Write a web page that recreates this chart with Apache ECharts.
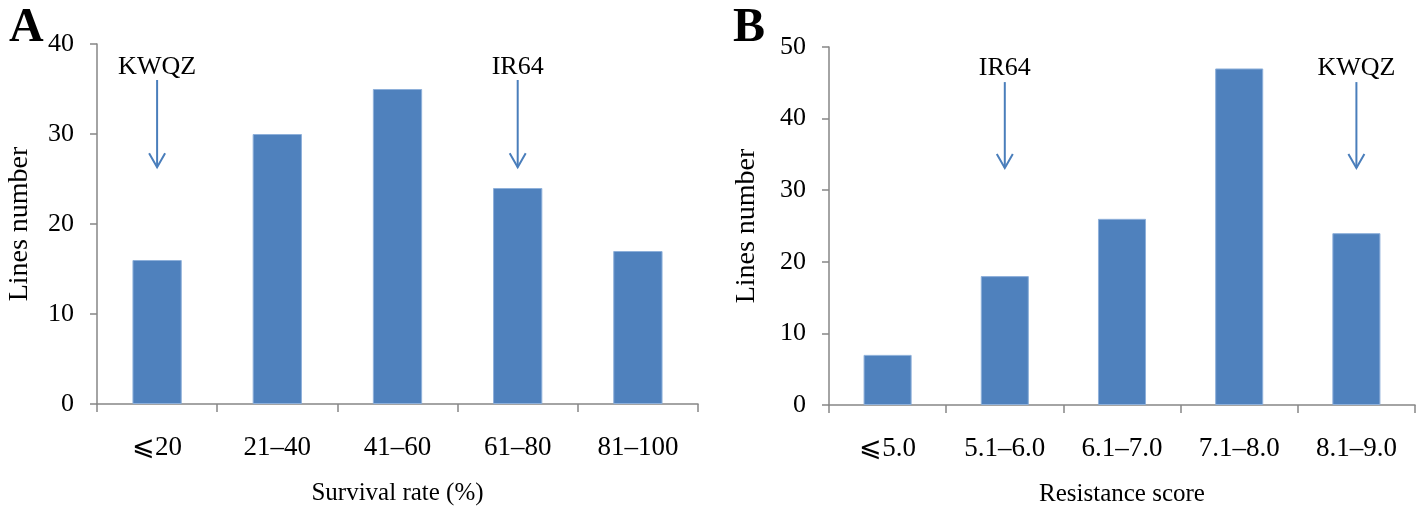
<!DOCTYPE html>
<html>
<head>
<meta charset="utf-8">
<script src="https://cdn.jsdelivr.net/npm/echarts@6/dist/echarts.min.js"></script>
<style>
html,body{margin:0;padding:0;background:#fff;}
#chart{width:1418px;height:507px;}
</style>
</head>
<body>
<div id="chart"></div>
<script>
// ---- data ----
const catsA = ['\u2A7D20', '21\u201340', '41\u201360', '61\u201380', '81\u2013100'];
const valsA = [16, 30, 35, 24, 17];
const catsB = ['\u2A7D5.0', '5.1\u20136.0', '6.1\u20137.0', '7.1\u20138.0', '8.1\u20139.0'];
const valsB = [7, 18, 26, 47, 24];
// arrows: [category index, arrow top value, arrow tip value, label value]
const arrowsA = [[0, 36, 26.3, 37.4], [3, 36, 26.3, 37.4]];
const arrowLabelsA = ['KWQZ', 'IR64'];
const arrowsB = [[1, 45.1, 33.1, 47.1], [4, 45.1, 33.1, 47.1]];
const arrowLabelsB = ['IR64', 'KWQZ'];

const FONT = '"Liberation Serif", "Times New Roman", serif';
const AXIS = '#868686';
const BLUE = '#4F81BD';
const ARROW = '#4A7EBB';

function arrowRenderer(labels) {
  return function (params, api) {
    const x = api.value(0);
    const p1 = api.coord([x, api.value(1)]);
    const p2 = api.coord([x, api.value(2)]);
    const pt = api.coord([x, api.value(3)]);
    return {
      type: 'group',
      children: [
        { type: 'line', shape: { x1: p1[0], y1: p1[1], x2: p2[0], y2: p2[1] },
          style: { stroke: ARROW, lineWidth: 2 } },
        { type: 'polyline', shape: { points: [[p2[0] - 8, p2[1] - 14], [p2[0], p2[1]], [p2[0] + 8, p2[1] - 14]] },
          style: { stroke: ARROW, lineWidth: 2, fill: null } },
        { type: 'text', style: { text: labels[params.dataIndex], x: pt[0], y: pt[1],
          align: 'center', verticalAlign: 'middle', fontFamily: FONT, fontSize: 26, fill: '#000' } }
      ]
    };
  };
}

function xAxis(idx, cats, name) {
  return {
    type: 'category', gridIndex: idx, data: cats,
    name: name, nameLocation: 'middle', nameGap: 77,
    nameTextStyle: { fontFamily: FONT, fontSize: 25, color: '#000' },
    axisLine: { lineStyle: { color: AXIS, width: 1.5 } },
    axisTick: { show: true, length: 8, lineStyle: { color: AXIS, width: 1.5 } },
    axisLabel: { fontFamily: FONT, fontSize: 27, color: '#000', margin: 30 },
    splitLine: { show: false }
  };
}
function yAxis(idx, max, gap) {
  return {
    type: 'value', gridIndex: idx, min: 0, max: max, interval: 10,
    name: 'Lines number', nameLocation: 'middle', nameGap: gap, nameRotate: 90,
    nameTextStyle: { fontFamily: FONT, fontSize: 28, color: '#000' },
    axisLine: { show: true, lineStyle: { color: AXIS, width: 1.5 } },
    axisTick: { show: true, length: 7, lineStyle: { color: AXIS, width: 1.5 } },
    axisLabel: { fontFamily: FONT, fontSize: 26, color: '#000', margin: 23 },
    splitLine: { show: false }
  };
}

const chart = echarts.init(document.getElementById('chart'), null, { renderer: 'canvas' });
chart.setOption({
  animation: false,
  backgroundColor: '#fff',
  title: [
    { text: 'A', left: 4, top: 0, textStyle: { fontFamily: FONT, fontSize: 48, fontWeight: 'bold', color: '#000' } },
    { text: 'B', left: 728, top: 0, textStyle: { fontFamily: FONT, fontSize: 48, fontWeight: 'bold', color: '#000' } }
  ],
  grid: [
    { left: 97, top: 44, width: 601, height: 360, outerBoundsMode: 'none', containLabel: false },
    { left: 829, top: 47, width: 586, height: 358, outerBoundsMode: 'none', containLabel: false }
  ],
  xAxis: [xAxis(0, catsA, 'Survival rate (%)'), xAxis(1, catsB, 'Resistance score')],
  yAxis: [yAxis(0, 40, 63), yAxis(1, 50, 68)],
  series: [
    { type: 'bar', xAxisIndex: 0, yAxisIndex: 0, data: valsA, barWidth: '41%',
      itemStyle: { color: BLUE, borderColor: '#8EB0DA', borderWidth: 1 } },
    { type: 'bar', xAxisIndex: 1, yAxisIndex: 1, data: valsB, barWidth: '41%',
      itemStyle: { color: BLUE, borderColor: '#8EB0DA', borderWidth: 1 } },
    { type: 'custom', xAxisIndex: 0, yAxisIndex: 0, data: arrowsA, renderItem: arrowRenderer(arrowLabelsA), silent: true, z: 5 },
    { type: 'custom', xAxisIndex: 1, yAxisIndex: 1, data: arrowsB, renderItem: arrowRenderer(arrowLabelsB), silent: true, z: 5 }
  ]
});
</script>
</body>
</html>
